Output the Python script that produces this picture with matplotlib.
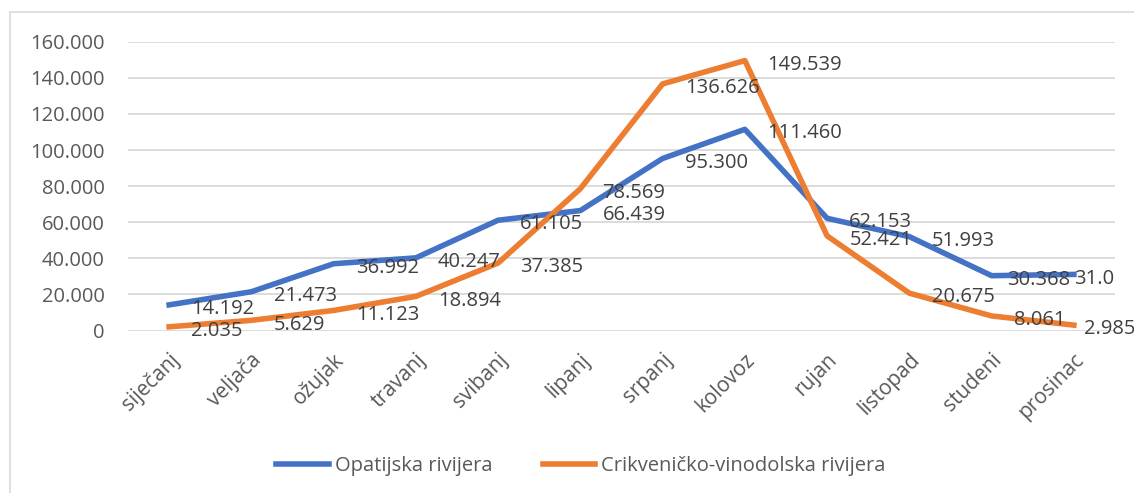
import matplotlib.pyplot as plt
from matplotlib.patches import Rectangle
from matplotlib.ticker import FuncFormatter
from matplotlib.transforms import ScaledTranslation

# Monthly values (Croatian month names)
months = ['siječanj', 'veljača', 'ožujak', 'travanj', 'svibanj', 'lipanj',
          'srpanj', 'kolovoz', 'rujan', 'listopad', 'studeni', 'prosinac']
opatija = [14192, 21473, 36992, 40247, 61105, 66439,
           95300, 111460, 62153, 51993, 30368, 31071]
crikvenica = [2035, 5629, 11123, 18894, 37385, 78569,
              136626, 149539, 52421, 20675, 8061, 2985]
series_names = ['Opatijska rivijera', 'Crikveničko-vinodolska rivijera']
yticks = [0, 20000, 40000, 60000, 80000, 100000, 120000, 140000, 160000]

blue = '#4472C4'
orange = '#ED7D31'
txt = '#404040'
grey = '#595959'

plt.rcParams['font.family'] = ['Open Sans', 'DejaVu Sans']

def thousands(v, pos=None):
    return '{:,.0f}'.format(v).replace(',', '.')

fig = plt.figure(figsize=(11.34, 4.93), dpi=100)
ax = fig.add_axes([128 / 1134, 1 - 330.5 / 493, 987 / 1134, 288.8 / 493])

# outer chart border
fig.patches.append(Rectangle((10 / 1134, -0.05), 1.1, 1 - 12 / 493 + 0.05,
                             transform=fig.transFigure, fill=False,
                             edgecolor='#D9D9D9', lw=1.2))

x = list(range(len(months)))
ax.plot(x, opatija, color=blue, lw=4, label=series_names[0], solid_joinstyle='round')
ax.plot(x, crikvenica, color=orange, lw=4, label=series_names[1], solid_joinstyle='round')

last = len(months) - 1
# data labels sit right of the points; excel squeezed the last ones in
for i, v in enumerate(opatija):
    dx = 16
    if i == last - 1:
        dx = 11
    if i == last:
        dx = 0
    ax.annotate(thousands(v), (i, v), xytext=(dx, -3), textcoords='offset points',
                ha='left', va='center', fontsize=14.5, color=txt,
                annotation_clip=False, clip_on=(i == last))
for i, v in enumerate(crikvenica):
    dx = 7 if i == last else 16
    ax.annotate(thousands(v), (i, v), xytext=(dx, -3), textcoords='offset points',
                ha='left', va='center', fontsize=14.5, color=txt,
                annotation_clip=False)

ax.set_xlim(-0.5, len(months) - 0.5)
ax.set_ylim(0, 160000)
ax.set_yticks(yticks)
ax.yaxis.set_major_formatter(FuncFormatter(thousands))
ax.grid(axis='y', color='#D9D9D9', lw=1.3)
ax.set_axisbelow(True)
for s in ax.spines.values():
    s.set_visible(False)

ax.set_xticks(x)
ax.set_xticklabels(months, rotation=45, ha='right', va='center',
                   rotation_mode='anchor')
ax.tick_params(axis='x', length=0, pad=19, labelsize=15, labelcolor=grey)
ax.tick_params(axis='y', length=0, pad=17, labelsize=14.5, labelcolor=grey)
shift = ScaledTranslation(7 / 100, 0, fig.dpi_scale_trans)
for lab in ax.get_xticklabels():
    lab.set_transform(lab.get_transform() + shift)

fig.legend(loc='center', bbox_to_anchor=(581 / 1134, 1 - 466 / 493), ncol=2,
           frameon=False, fontsize=14.5, labelcolor=grey, handlelength=2.6,
           handletextpad=0.3, columnspacing=2.5)

fig.savefig('out.png', dpi=100)
